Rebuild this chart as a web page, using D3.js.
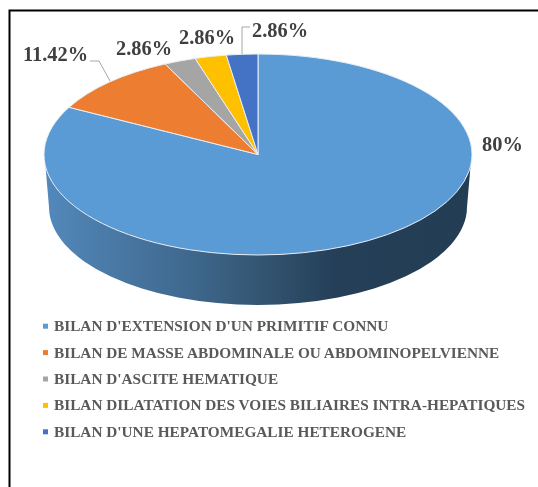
<!DOCTYPE html>
<html><head><meta charset="utf-8">
<script src="https://cdn.jsdelivr.net/npm/d3@7"></script>
<style>html,body{margin:0;padding:0;background:#fff}svg{display:block;filter:blur(0.4px)}</style>
</head><body><svg id="c" width="538" height="487"></svg>
<script>
const categories = ["BILAN D'EXTENSION D'UN PRIMITIF CONNU","BILAN DE MASSE ABDOMINALE OU ABDOMINOPELVIENNE","BILAN D'ASCITE HEMATIQUE","BILAN DILATATION DES VOIES BILIAIRES INTRA-HEPATIQUES","BILAN D'UNE HEPATOMEGALIE HETEROGENE"];
const values = [80, 11.42, 2.86, 2.86, 2.86];
const valueLabels = ["80%","11.42%","2.86%","2.86%","2.86%"];
const colors = ["#5b9bd5","#ed7d31","#a5a5a5","#ffc000","#4472c4"];

const cx=258,cy=154.5,rx=214,ry=100.5;
const depthY=207,brx=209,bry=98;
const svg=d3.select("#c");
const color=d3.scaleOrdinal(categories,colors);
svg.append("path").attr("d","M9.5,487V10.5H538").attr("fill","none").attr("stroke","#000").attr("stroke-width",2);
const defs=svg.append("defs");
const g=defs.append("linearGradient").attr("id","wall").attr("gradientUnits","userSpaceOnUse").attr("x1",44).attr("x2",472).attr("y1",0).attr("y2",0);
[[0,"#5289bc"],[.15,"#4a7aa6"],[.35,"#3e678d"],[.5,"#345672"],[.68,"#253f58"],[1,"#233d54"]].forEach(s=>g.append("stop").attr("offset",s[0]).attr("stop-color",s[1]));
svg.append("path").attr("fill","url(#wall)")
 .attr("d",`M${cx-rx+1},${cy+6}L${cx-brx},${depthY}A${brx},${bry} 0 0 0 ${cx+brx},${depthY}L${cx+rx-1},${cy+6}Z`);
const persp=a=>{const n=Math.floor((a+Math.PI)/(2*Math.PI));const b=a-n*2*Math.PI;return 2*Math.atan(0.827*Math.tan(b/2))+n*2*Math.PI;};
const pie=d3.pie().sort(null).value(d=>d.v);
const data=pie(categories.map((c,i)=>({c,v:values[i]})));
const arc=d3.arc().innerRadius(0).outerRadius(rx);
const topFace=svg.append("g").attr("transform",`translate(${cx},${cy}) scale(1,${ry/rx})`);
topFace.selectAll("path").data(data).join("path")
 .attr("d",d=>arc({startAngle:persp(d.startAngle),endAngle:persp(d.endAngle)}))
 .attr("fill",d=>color(d.data.c))
 .attr("stroke","#e8eef5").attr("stroke-width",1).attr("vector-effect","non-scaling-stroke");
const labelPos=[[482,151],[23,61],[116,55],[179,44],[252,37]];
svg.selectAll("text.v").data(valueLabels).join("text").attr("class","v")
 .attr("x",(d,i)=>labelPos[i][0]).attr("y",(d,i)=>labelPos[i][1])
 .attr("font-family","'Liberation Serif'").attr("font-weight","bold").attr("font-size",20.4)
 .attr("fill","#404040").text(d=>d);
const leaders=[[[90,61],[99,61],[110,81]],[[250,27],[242,27],[242,54]]];
svg.selectAll("path.l").data(leaders).join("path").attr("class","l")
 .attr("d",d3.line()).attr("fill","none").attr("stroke","#a6a6a6").attr("stroke-width",1);
const leg=d3.scaleBand().domain(categories).range([313,445]);
const row=svg.selectAll("g.leg").data(categories).join("g").attr("class","leg")
 .attr("transform",d=>`translate(0,${leg(d)+leg.bandwidth()/2})`);
row.append("rect").attr("x",43).attr("y",-2.5).attr("width",5).attr("height",5).attr("fill",d=>color(d));
row.append("text").attr("x",54).attr("y",5)
 .attr("font-family","'Liberation Serif'").attr("font-weight","bold").attr("font-size",15.3)
 .attr("fill","#595959").text(d=>d);
</script></body></html>
